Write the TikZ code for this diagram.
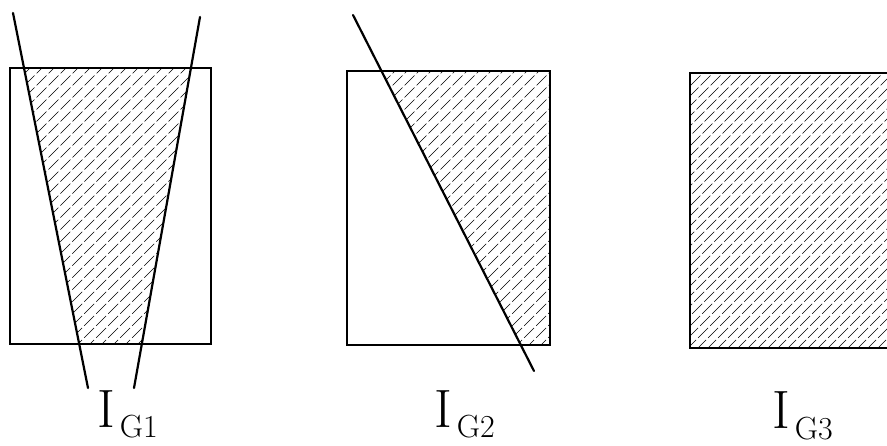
\documentclass[tikz,border=0pt]{standalone}
\begin{document}
\begin{tikzpicture}[x=1pt,y=-1pt,
  frame/.style={line width=1.3pt, line join=miter},
  cut/.style={line width=2.2pt, line cap=round},
  hatch/.style={line width=0.6pt, dash pattern=on 14pt off 3pt},
  lab/.style={inner sep=0pt, anchor=base west, font=\fontsize{54}{54}\selectfont}]
\useasboundingbox (0,0) rectangle (887,446);
\fill[white] (0,0) rectangle (887,446);

% ---- panel 1
\coordinate (a1) at (13,13); \coordinate (a2) at (88,388);
\coordinate (b1) at (200,17); \coordinate (b2) at (134,388);
\begin{scope}
  \clip (24,68) -- (191,68) -- (142,344) -- (79,344) -- cycle;
  \foreach \c in {-420,-408,...,300} \draw[hatch] (\c,446) -- ++(446,-446);
\end{scope}
\draw[frame] (10,68) rectangle (211,344);
\draw[cut] (a1) -- (a2);
\draw[cut] (b1) -- (b2);
\node[lab] (l1) at (97,428) {I\hspace{5pt}\raisebox{-10pt}{\fontsize{32}{32}\selectfont G1}};

% ---- panel 2
\coordinate (c1) at (353,15); \coordinate (c2) at (534,371);
\begin{scope}
  \clip (381,71) -- (550,71) -- (550,345) -- (521,345) -- cycle;
  \foreach \c in {-100,-88,...,620} \draw[hatch] (\c,446) -- ++(446,-446);
\end{scope}
\draw[frame] (347,71) rectangle (550,345);
\draw[cut] (c1) -- (c2);
\node[lab] (l2) at (434,428) {I\hspace{5pt}\raisebox{-10pt}{\fontsize{32}{32}\selectfont G2}};

% ---- panel 3
\begin{scope}
  \clip (690,73) rectangle (892,348);
  \foreach \c in {220,230,...,900} \draw[hatch] (\c,446) -- ++(446,-446);
\end{scope}
\draw[frame] (690,73) rectangle (892,348);
\node[lab] (l3) at (772,429) {I\hspace{5pt}\raisebox{-10pt}{\fontsize{32}{32}\selectfont G3}};
\end{tikzpicture}
\end{document}
